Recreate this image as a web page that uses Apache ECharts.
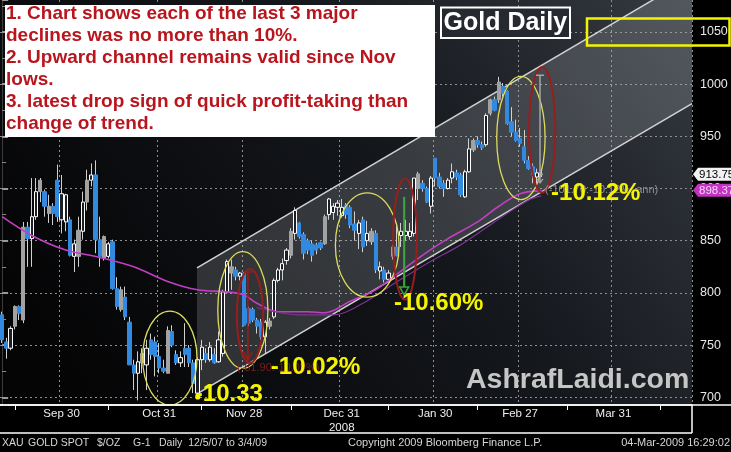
<!DOCTYPE html>
<html><head><meta charset="utf-8">
<script src="https://cdn.jsdelivr.net/npm/echarts@6/dist/echarts.min.js"></script>
<style>html,body{margin:0;padding:0;background:#000;overflow:hidden}#chart{width:731px;height:452px}</style>
</head><body><div id="chart"></div>
<script>
// ---------------- data ----------------
const firstSession = [2008, 8, 10];   // 10 Sep 2008, first weekday slot on the axis
const sessionSlots = 163;             // weekday slots shown (incl. empty future)

const openPx = [779,753,747,768,787,774,863,852,873,897, 897,876,883,908,870,868,870,835,835,859,
  887,908,913,851,833,835,849,804,784,796, 772,731,723,733,731,755,753,739,728,723,
  763,741,733,747,747,733,704,736,742,736, 741,734,742,801,819,822,816,819,785,784,
  774,772,758,768,777,812,822,831,836,857, 867,856,850,847,846,848,847,875,877,882,
  874,884,882,866,857,870,850,849,857,821, 822,813,835,844,855,855,854,857,900,905,
  900,883,929,911,905,900,910,915,913,892, 916,937,946,942,942,972,985,985,998,993,
  964,954,948,940,927,921,911,913];
const closePx = [755,747,766,787,780,863,852,873,897,908, 883,883,876,873,895,894,836,847,860,887,
  908,913,851,835,854,847,804,787,803,777, 731,723,734,742,747,741,739,728,725,764,
  750,733,738,741,733,713,736,748,736,748, 733,755,801,830,825,816,819,769,771,774,
  768,758,772,773,812,822,828,841,859,879, 854,838,841,836,841,843,873,890,883,886,
  882,875,865,860,867,844,857,859,822,825, 813,819,844,836,859,859,859,910,914,900,
  887,910,910,902,900,908,916,911,894,916, 938,946,942,939,970,985,975,1002,991,962,
  954,946,943,927,919,913,915,914];
const lowPx = [752,737,745,765,774,771,825,825,870,887, 873,867,865,868,857,859,835,820,825,851,
  879,902,838,825,831,833,803,784,782,774, 731,707,697,723,707,736,720,723,723,723,
  748,731,729,729,729,704,702,726,733,734, 732,733,739,800,803,812,812,768,768,772,
  761,755,742,765,775,810,812,827,833,851, 852,832,837,830,837,841,846,870,870,874,
  872,871,862,850,842,839,845,846,819,813, 810,810,832,835,844,850,851,854,889,897,
  886,876,902,900,892,899,905,908,892,891, 915,935,939,937,940,970,974,982,988,961,
  950,945,940,924,918,905,903,911];
const highPx = [782,757,768,788,788,868,868,910,910,910, 899,894,886,923,913,895,873,851,873,897,
  918,924,927,873,855,849,851,815,806,806, 777,736,744,747,755,761,758,752,736,768,
  769,745,744,771,750,736,738,755,747,753, 747,763,803,832,832,825,820,820,787,786,
  776,775,774,776,814,824,833,843,862,882, 868,858,852,850,848,849,875,891,886,889,
  890,886,884,878,870,873,869,862,860,830, 825,822,846,867,867,870,867,910,916,908,
  902,912,929,915,908,910,924,918,915,918, 948,948,950,945,972,986,988,1007,1001,994,
  978,966,958,956,931,924,919,916];
// candle style seen in the picture: d = blue filled, u = white hollow, g = grey
const candleKind = 'ddugdgduug' + 'dgdduudugu' + 'guddguddgd' + 'dduguddddg' + 'dduddduudu' +
  'duuugduddd' + 'dduguuuugu' + 'ddddddguuu' + 'udddudugdu' + 'dugduuuugd' +
  'duddduuddu' + 'ugddugdgdd' + 'ddddddug';

// moving-average lines (slot index, price)
const maIdx = [0,7,15,23,31,39,46,53,57,60,65,72,76,82,88,93,99,105,112,117,122,127];
const maVal = [873,855,841,834,825,811,803,801,798,790,782,782,781,792,803,818,836,852,868,883,895,898];
const ma2Idx = [60,70,78,85,92,100,108,116,124,127];
const ma2Val = [786,779,779,790,808,828,846,868,889,893];
const lastPrice = 913.75;
const maLast = 898.37;

// x axis labels
const xLabelIdx = [14, 37, 57, 80, 102, 122, 144];
const xLabelText = ['Sep 30', 'Oct 31', 'Nov 28', 'Dec 31\n2008', 'Jan 30', 'Feb 27', 'Mar 31'];
const xMinorIdx = [3, 25, 47, 68, 91, 112, 133, 155];

// upward channel (slot index, upper price, lower price)
const channelIdx = [45.9, 162.5];
const channelUpper = [823.9, 1102.7];
const channelLower = [703.2, 981.3];

// ellipses drawn around the declines
const ellipseIdx = [39.5, 56.7, 58.4, 86.0, 94.9, 122.2, 127.2];
const ellipseVal = [737.6, 783.6, 777.9, 845.9, 851.6, 948.4, 956.1];
const ellipseRx = [6.4, 5.9, 3.1, 7.5, 2.8, 5.7, 3.1];
const ellipseRy = [45, 56, 45, 50, 58, 59, 60];
const ellipseKind = ['y','y','r','y','r','y','r'];

// measurement arrows
const arrowIdx = [57.9, 94.7, 126.7];
const arrowTop = [820, 892, 1008.5];
const arrowBottom = [735.7, 798, 905.3];
const arrowKind = ['red', 'green', 'grey'];

// percentage callouts
const pctText = ['-10.33', '-10.02%', '-10.60%', '-10.12%'];
const pctIdx = [45.4, 63.3, 92.3, 129.3];
const pctVal = [703.1, 729.0, 790.3, 895.7];
const noteText = ['(-81.90:-10.02%)', '(-101.70:-10.12%, ann)'];
const noteIdx = [55.3, 127.9];
const noteVal = [728.0, 898.6];
const noteColor = ['#7d1d1d', '#8e8e8e'];
const dotIdx = [46.1];
const dotVal = [700.3];

// right-edge value tags
const tagVal = [lastPrice, maLast];
const tagFill = ['#f2f2f2', '#c432c4'];
const tagInk = ['#000000', '#f6d6f6'];

const boxLines = [
  '1. Chart shows each of the last 3 major',
  'declines was no more than 10%.',
  '2. Upward channel remains valid since Nov',
  'lows.',
  '3. latest drop sign of quick profit-taking than',
  'change of trend.'
];

// ---------------- build ----------------
const slotDates = [];
(function () {
  let t = Date.UTC(firstSession[0], firstSession[1], firstSession[2]);
  while (slotDates.length < sessionSlots) {
    const d = new Date(t);
    const wd = d.getUTCDay();
    if (wd !== 0 && wd !== 6) slotDates.push(d.toISOString().slice(0, 10));
    t += 86400000;
  }
})();

const kindStyle = {
  d: { fill: '#3289e0', stroke: '#3289e0' },
  u: { fill: '#1c1f24', stroke: '#ffffff' },
  g: { fill: '#a2a2a2', stroke: '#a2a2a2' }
};
const wickData = openPx.map((o, i) => [o, closePx[i], lowPx[i], highPx[i]]);
const bodyData = openPx.map((o, i) => {
  const c = closePx[i];
  const st = kindStyle[candleKind[i]];
  return {
    value: [o, c, Math.min(o, c), Math.max(o, c)],
    itemStyle: { color: st.fill, color0: st.fill, borderColor: st.stroke, borderColor0: st.stroke }
  };
});

const FONT = 'Arial, "Liberation Sans", sans-serif';
const chart = echarts.init(document.getElementById('chart'), null, { renderer: 'canvas', width: 731, height: 452 });

const option = {
  animation: false,
  backgroundColor: '#000',
  grid: { left: 0, top: 0, width: 692, height: 405, containLabel: false, outerBoundsMode: 'none', show: false },
  xAxis: [{
    type: 'category',
    data: slotDates,
    boundaryGap: true,
    axisLine: { show: true, lineStyle: { color: '#ffffff', width: 1.5 } },
    axisTick: { show: true, alignWithLabel: true, length: 5, interval: (i) => xMinorIdx.includes(i), lineStyle: { color: '#ffffff', width: 1 } },
    axisLabel: {
      show: true, interval: (i) => xLabelIdx.includes(i),
      formatter: (v, i) => { const k = xLabelIdx.indexOf(i); return k >= 0 ? xLabelText[k] : ''; },
      color: '#eeeeee', fontSize: 11.5, fontFamily: FONT, margin: 2, lineHeight: 14
    },
    splitLine: { show: true, interval: (i) => xLabelIdx.includes(i), lineStyle: { color: '#8e8e8e', type: [2, 3], width: 1 } }
  }, {
    type: 'value', min: -0.5, max: sessionSlots - 0.5, show: false
  }],
  yAxis: [{
    type: 'value', position: 'right',
    min: 692.6, max: 1080.6, minInterval: 50, maxInterval: 50,
    axisLine: { show: true, lineStyle: { color: '#3c3c3c', width: 1 } },
    axisTick: { show: true, length: 6, lineStyle: { color: '#9a9a9a', width: 2 } },
    minorTick: { show: true, splitNumber: 2, length: 4, lineStyle: { color: '#8a8a8a', width: 1 } },
    axisLabel: {
      color: '#e8e8e8', fontSize: 12.5, fontFamily: FONT, margin: 8,
      showMinLabel: false, showMaxLabel: false,
      formatter: (v) => (Math.abs(v % 50) < 1e-6 ? String(v) : '')
    },
    splitLine: { show: true, showMinLine: false, showMaxLine: false, lineStyle: { color: '#8e8e8e', type: [2, 3], width: 1 } }
  }],
  series: [
    {
      name: 'channel', type: 'custom', xAxisIndex: 1, yAxisIndex: 0, z: 1, silent: true,
      data: channelIdx.map((x, i) => [x, channelUpper[i], channelLower[i]]),
      renderItem: (params, api) => {
        if (params.dataIndex !== 0) return null;
        const a1 = api.coord([channelIdx[0], channelUpper[0]]);
        const a2 = api.coord([channelIdx[1], channelUpper[1]]);
        const b1 = api.coord([channelIdx[0], channelLower[0]]);
        const b2 = api.coord([channelIdx[1], channelLower[1]]);
        return {
          type: 'group', children: [
            { type: 'polygon', shape: { points: [a1, a2, b2, b1] }, style: { fill: 'rgba(200,206,212,0.2)' } },
            { type: 'line', shape: { x1: a1[0], y1: a1[1], x2: a2[0], y2: a2[1] }, style: { stroke: '#d2d2d2', lineWidth: 1.5 } },
            { type: 'line', shape: { x1: b1[0], y1: b1[1], x2: b2[0], y2: b2[1] }, style: { stroke: '#d2d2d2', lineWidth: 1.5 } }
          ]
        };
      }
    },
    {
      name: 'wicks', type: 'candlestick', xAxisIndex: 0, yAxisIndex: 0, z: 2, silent: true,
      barWidth: 0.5, data: wickData,
      itemStyle: { color: '#d0d0d0', color0: '#d0d0d0', borderColor: '#d0d0d0', borderColor0: '#d0d0d0', borderWidth: 1 }
    },
    {
      name: 'XAU', type: 'candlestick', xAxisIndex: 0, yAxisIndex: 0, z: 3, silent: true,
      barWidth: 3.8, data: bodyData,
      itemStyle: { borderWidth: 1 }
    },
    {
      name: 'MA', type: 'line', xAxisIndex: 1, yAxisIndex: 0, z: 4, silent: true,
      data: maIdx.map((x, i) => [x, maVal[i]]), smooth: 0.35, showSymbol: false,
      lineStyle: { color: '#c23fc4', width: 1.6 }
    },
    {
      name: 'MA2', type: 'line', xAxisIndex: 1, yAxisIndex: 0, z: 4, silent: true,
      data: ma2Idx.map((x, i) => [x, ma2Val[i]]), smooth: 0.35, showSymbol: false,
      lineStyle: { color: '#7b3590', width: 1.2 }
    },
    {
      name: 'ellipses', type: 'custom', xAxisIndex: 1, yAxisIndex: 0, z: 5, silent: true,
      data: ellipseIdx.map((x, i) => [x, ellipseVal[i], ellipseRx[i], ellipseRy[i]]),
      renderItem: (params, api) => {
        const c = api.coord([api.value(0), api.value(1)]);
        const s = api.size([api.value(2), api.value(3)]);
        const red = ellipseKind[params.dataIndex] === 'r';
        return { type: 'ellipse', shape: { cx: c[0], cy: c[1], rx: s[0], ry: s[1] },
          style: { fill: 'none', stroke: red ? '#981e1e' : '#dcdc5c', lineWidth: red ? 2 : 1.3 } };
      }
    },
    {
      name: 'arrows', type: 'custom', xAxisIndex: 1, yAxisIndex: 0, z: 5, silent: true,
      data: arrowIdx.map((x, i) => [x, arrowTop[i], arrowBottom[i]]),
      renderItem: (params, api) => {
        const p1 = api.coord([api.value(0), api.value(1)]);
        const p2 = api.coord([api.value(0), api.value(2)]);
        const kind = arrowKind[params.dataIndex];
        const x = p1[0];
        const kids = [];
        if (kind === 'green') {
          kids.push({ type: 'line', shape: { x1: x, y1: p1[1], x2: x, y2: p2[1] - 8 }, style: { stroke: '#3aa33a', lineWidth: 2.2 } });
          kids.push({ type: 'polygon', shape: { points: [[x - 4.5, p2[1] - 8], [x + 4.5, p2[1] - 8], [x, p2[1]]] }, style: { fill: 'none', stroke: '#3aa33a', lineWidth: 1.5 } });
        } else if (kind === 'grey') {
          kids.push({ type: 'line', shape: { x1: x, y1: p1[1], x2: x, y2: p2[1] }, style: { stroke: '#a6a6a6', lineWidth: 1.5 } });
          kids.push({ type: 'line', shape: { x1: x - 4, y1: p1[1], x2: x + 4, y2: p1[1] }, style: { stroke: '#a6a6a6', lineWidth: 1.5 } });
          kids.push({ type: 'polyline', shape: { points: [[x - 3, p2[1] - 4], [x, p2[1]], [x + 3, p2[1] - 4]] }, style: { stroke: '#a6a6a6', lineWidth: 1.2, fill: 'none' } });
        } else {
          kids.push({ type: 'line', shape: { x1: x, y1: p1[1], x2: x, y2: p2[1] }, style: { stroke: '#9a1e1e', lineWidth: 1.5 } });
          kids.push({ type: 'line', shape: { x1: x - 4, y1: p1[1], x2: x + 4, y2: p1[1] }, style: { stroke: '#9a1e1e', lineWidth: 1.5 } });
          kids.push({ type: 'polyline', shape: { points: [[x - 4, p2[1] - 8], [x, p2[1]], [x + 4, p2[1] - 8]] }, style: { stroke: '#9a1e1e', lineWidth: 1.5, fill: 'none' } });
        }
        return { type: 'group', children: kids };
      }
    },
    {
      name: 'notes', type: 'custom', xAxisIndex: 1, yAxisIndex: 0, z: 6, silent: true,
      data: noteIdx.map((x, i) => [x, noteVal[i]]),
      renderItem: (params, api) => {
        const p = api.coord([api.value(0), api.value(1)]);
        return { type: 'text', x: p[0], y: p[1], style: { text: noteText[params.dataIndex], fill: noteColor[params.dataIndex],
          font: '11px ' + FONT, align: 'left', verticalAlign: 'middle' } };
      }
    },
    {
      name: 'dot', type: 'custom', xAxisIndex: 1, yAxisIndex: 0, z: 7, silent: true,
      data: dotIdx.map((x, i) => [x, dotVal[i]]),
      renderItem: (params, api) => {
        const p = api.coord([api.value(0), api.value(1)]);
        return { type: 'circle', shape: { cx: p[0], cy: p[1], r: 2.6 }, style: { fill: '#f4f400' } };
      }
    },
    {
      name: 'pct', type: 'custom', xAxisIndex: 1, yAxisIndex: 0, z: 7, silent: true,
      data: pctIdx.map((x, i) => [x, pctVal[i]]),
      renderItem: (params, api) => {
        const p = api.coord([api.value(0), api.value(1)]);
        return { type: 'text', x: p[0], y: p[1], style: { text: pctText[params.dataIndex], fill: '#f4f400',
          font: 'bold 24px ' + FONT, align: 'left', verticalAlign: 'middle' } };
      }
    },
    {
      name: 'tags', type: 'custom', xAxisIndex: 1, yAxisIndex: 0, z: 8, silent: true, clip: false,
      data: tagVal.map((v) => [sessionSlots - 0.5, v]),
      renderItem: (params, api) => {
        const p = api.coord([api.value(0), api.value(1)]);
        const i = params.dataIndex;
        const x = p[0] + 1, y = p[1];
        return { type: 'group', children: [
          { type: 'polygon', shape: { points: [[x, y], [x + 5, y - 6.5], [x + 45, y - 6.5], [x + 45, y + 6.5], [x + 5, y + 6.5]] }, style: { fill: tagFill[i] } },
          { type: 'text', x: x + 6, y: y + 0.5, style: { text: tagVal[i].toFixed(2), fill: tagInk[i], font: '11.5px ' + FONT, align: 'left', verticalAlign: 'middle' } }
        ] };
      }
    }
  ],
  graphic: [
    { type: 'rect', z: -10, silent: true, shape: { x: 0, y: 0, width: 692, height: 405 },
      style: { fill: new echarts.graphic.LinearGradient(1, 0, 0.15, 1, [
        { offset: 0, color: '#363b41' }, { offset: 0.45, color: '#15181d' }, { offset: 1, color: '#050506' }]) } },
    { type: 'line', z: 20, silent: true, shape: { x1: 0, y1: 405, x2: 731, y2: 405 }, style: { stroke: '#ffffff', lineWidth: 1.5 } },
    { type: 'line', z: 20, silent: true, shape: { x1: 692, y1: 405, x2: 692, y2: 433 }, style: { stroke: '#ffffff', lineWidth: 1.5 } },
    { type: 'line', z: 20, silent: true, shape: { x1: 0, y1: 433, x2: 692, y2: 433 }, style: { stroke: '#ffffff', lineWidth: 1.5 } },
    // note box
    { type: 'rect', z: 30, silent: true, shape: { x: 5, y: 5, width: 430, height: 132 }, style: { fill: '#ffffff' } },
    { type: 'text', z: 31, silent: true, x: 6, y: 2.5,
      style: { text: boxLines.join('\n'), fill: '#b8151d', font: 'bold 19px ' + FONT, lineHeight: 22, verticalAlign: 'top', align: 'left' } },
    // title
    { type: 'rect', z: 30, silent: true, shape: { x: 441, y: 7.5, width: 129, height: 30.5 }, style: { fill: '#262a30', stroke: '#ffffff', lineWidth: 2 } },
    { type: 'text', z: 31, silent: true, x: 443.5, y: 23,
      style: { text: 'Gold Daily', fill: '#ffffff', font: 'bold 25px ' + FONT, verticalAlign: 'middle', align: 'left' } },
    // yellow box at 1050
    { type: 'rect', z: 30, silent: true, shape: { x: 587, y: 18.5, width: 142.5, height: 27 }, style: { fill: 'none', stroke: '#f4f400', lineWidth: 2.5 } },
    // watermark
    { type: 'text', z: 30, silent: true, x: 466, y: 380,
      style: { text: 'AshrafLaidi.com', fill: '#c6c6c6', font: 'bold 28.5px ' + FONT, verticalAlign: 'middle', align: 'left' } },
    // footer
    { type: 'text', z: 30, silent: true, x: 2, y: 443, style: { text: 'XAU', fill: '#d6d6d6', font: '10.5px ' + FONT, verticalAlign: 'middle' } },
    { type: 'text', z: 30, silent: true, x: 28, y: 443, style: { text: 'GOLD SPOT', fill: '#d6d6d6', font: '10.5px ' + FONT, verticalAlign: 'middle' } },
    { type: 'text', z: 30, silent: true, x: 97, y: 443, style: { text: '$/OZ', fill: '#d6d6d6', font: '10.5px ' + FONT, verticalAlign: 'middle' } },
    { type: 'text', z: 30, silent: true, x: 133, y: 443, style: { text: 'G-1', fill: '#d6d6d6', font: '10.5px ' + FONT, verticalAlign: 'middle' } },
    { type: 'text', z: 30, silent: true, x: 159, y: 443, style: { text: 'Daily  12/5/07 to 3/4/09', fill: '#d6d6d6', font: '10.5px ' + FONT, verticalAlign: 'middle' } },
    { type: 'text', z: 30, silent: true, x: 348, y: 443, style: { text: 'Copyright 2009 Bloomberg Finance L.P.', fill: '#d6d6d6', font: '11px ' + FONT, verticalAlign: 'middle' } },
    { type: 'text', z: 30, silent: true, x: 730, y: 443, style: { text: '04-Mar-2009 16:29:02', fill: '#d6d6d6', font: '11px ' + FONT, verticalAlign: 'middle', align: 'right' } }
  ]
};
chart.setOption(option);
</script>
</body></html>
